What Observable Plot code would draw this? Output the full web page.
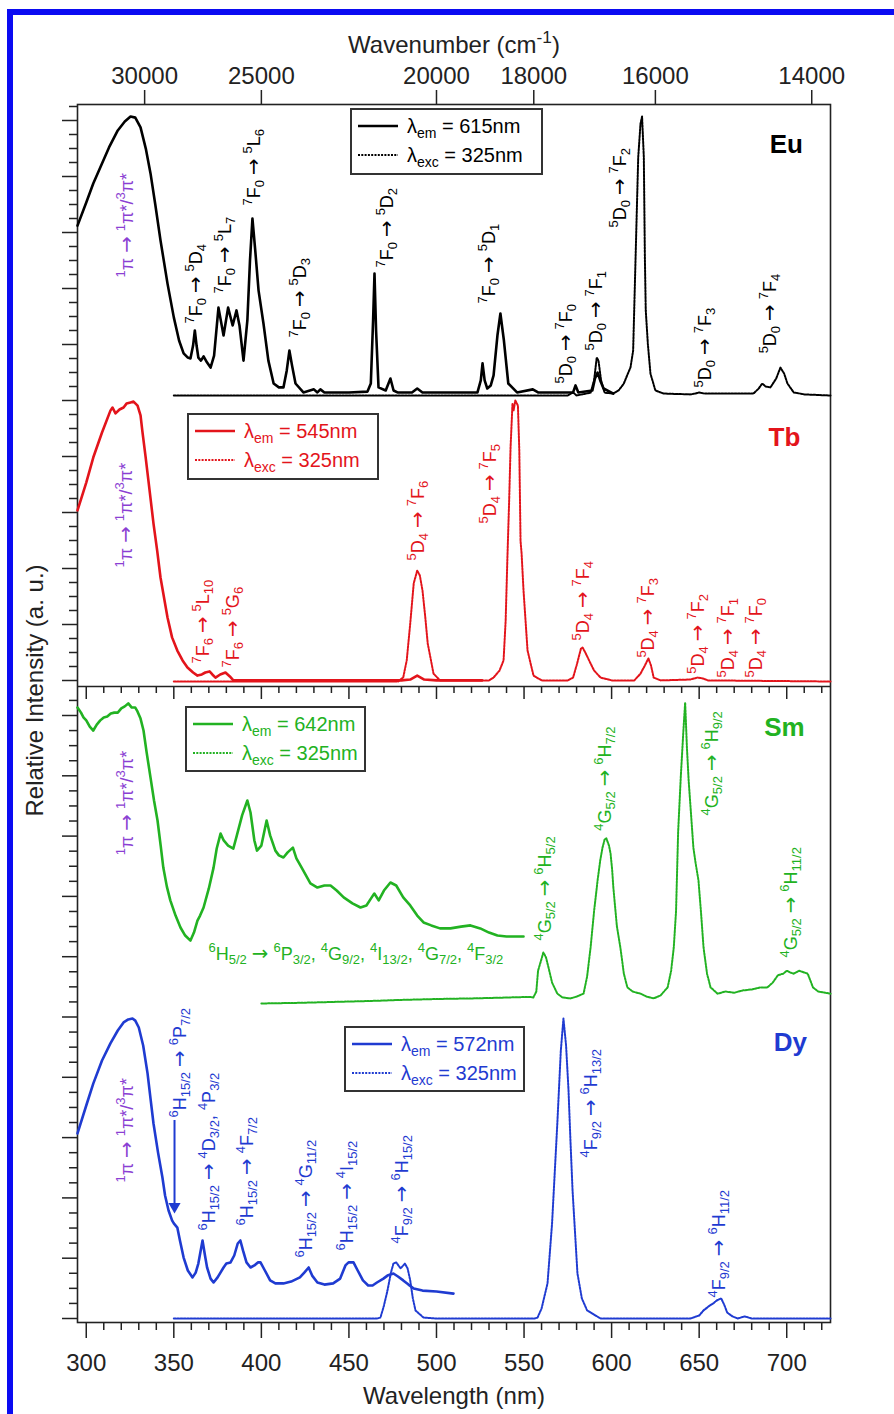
<!DOCTYPE html>
<html>
<head>
<meta charset="utf-8">
<script src="https://cdn.jsdelivr.net/npm/d3@7"></script>
<script src="https://cdn.jsdelivr.net/npm/@observablehq/plot@0.6"></script>
<style>
html,body{margin:0;padding:0;background:#fff;}
#wrap{position:relative;width:894px;height:1414px;overflow:hidden;font-family:"Liberation Sans",Arial,Helvetica,sans-serif;}
#chart{position:absolute;left:0;top:0;}
#border{position:absolute;left:7px;top:9px;width:2000px;height:2000px;border-left:6px solid #0b0bf2;border-top:6px solid #0b0bf2;pointer-events:none;}
.leg{position:absolute;border:2px solid #333;background:#fff;box-sizing:border-box;}
.leg svg{position:absolute;left:6px;}
.leg span{position:absolute;font-size:20px;line-height:20px;white-space:nowrap;}
.leg sub{font-size:70%;vertical-align:-0.35em;line-height:0;}
</style>
</head>
<body>
<div id="wrap"><div id="chart"></div><div id="border"></div></div>
<script>
// ---------------- data (wavelength nm, relative intensity % of panel) ----------------
const euExc = [[295,60.9],[300,69.2],[304,76],[308,81.7],[313,88.9],[318,95],[322,98.2],[325.3,100],[328,99.6],[331,96.1],[334,88.5],[336.7,79.6],[339.5,68.1],[342.4,55.6],[346.4,40.1],[350,28],[353,19.7],[355.6,15.1],[358,13.6],[359.5,13.3],[361,17.9],[362,23.3],[363,17.9],[364,13.6],[365.5,12.5],[367,14],[369,11.8],[371,10],[373,14.3],[375.5,31.5],[378.4,21.5],[381,31.5],[383.6,25.1],[385.8,30.5],[387.5,25.1],[389.8,12.5],[392,26.9],[393.5,48.4],[394.9,63.4],[396.5,52],[398.4,37.6],[401.2,25.8],[404,12.5],[407,4.3],[410,2.9],[412.6,2.9],[414.5,9],[416,16.1],[417.5,10.8],[419.5,4.3],[424,1.1],[430,2.2],[432,1.1],[433.7,2.2],[436,1.1],[450,1.1],[460.6,1.4],[462.5,4.3],[463.8,26.9],[464.6,43.7],[465.5,23.3],[466.9,2.9],[471,1.8],[473.7,6.1],[475.5,1.8],[477.7,1.1],[486,1.1],[489,2.5],[492,1.1],[510,1.1],[523.4,1.1],[525.3,5.4],[526.3,11.5],[527.5,5.4],[529,2.5],[531,3.6],[532.6,7.2],[534.8,21.5],[536.5,29.4],[538.5,19.7],[541,4.3],[546,1.1],[555,2.2],[558,1.1],[578,1.1],[579.4,3.6],[581,1.1],[589,1.8],[590.5,6.1],[592,8.2],[593.5,5.4],[595.4,2.5],[601,0.7]];
const euEm = [[350,0],[400,0],[450,0],[500,0],[550,0],[575,0],[578,1.1],[580,0],[588,1],[590,5.4],[591.5,13.6],[592.5,12.5],[594,5.4],[596,1],[600.7,0.7],[604,1.8],[606.9,4.2],[610.8,10.1],[612.3,16.1],[613.2,37.6],[614.2,61.6],[615.2,85.4],[616.5,97.4],[617.4,100],[618.4,85.4],[619,49.5],[619.5,30.5],[620.7,18.5],[622.2,7.8],[625,1.8],[629.7,0.7],[645,0.4],[648,0.7],[650,1.1],[653,0.7],[681,0.7],[684,2.5],[686,4.3],[688,3.2],[690.7,2.9],[694,6.1],[696.4,10],[698.5,7.9],[700.4,4.3],[704,1.1],[710,0.4],[725,0]];
const tbExc = [[295,60.9],[300,70.8],[304,79.7],[309,88.6],[313.8,96.4],[315,97.5],[316.7,95.4],[319,96.8],[321.3,97.5],[323,98.9],[325.3,99.3],[327,99.6],[329.3,98.2],[331,94.7],[332,89.3],[333.8,80.4],[335.5,71.5],[338.4,56.2],[340.5,46.6],[342.4,37],[346.4,22.8],[349,15.7],[352,11],[355,7.5],[357.8,5],[361,3.2],[363.5,2.1],[366,2.5],[368,3.2],[370.4,3.6],[372,2.5],[373.8,1.4],[376.5,2.5],[379.5,3.2],[382,1.8],[384,0.4],[400,0.4],[440,0.4],[480,0.4],[485,0.7],[489,2.1],[493,0.7],[500,0.4],[526,0.4]];
const tbEm = [[350,0],[400,0],[478,0],[481,1.4],[483,7.5],[485,20.6],[487,34.9],[489,39.5],[490.5,37.7],[492,32.4],[493.5,23.5],[495,13.5],[498.3,2.8],[502,0.4],[530,0.4],[532.6,1.4],[536,3.9],[538.3,7.5],[539.5,21.7],[540.5,44.1],[541.5,64.4],[542.3,83.3],[543.4,98.9],[544,96.4],[545,100],[546.5,98.2],[547.3,82],[548,50],[548.6,45.6],[549.7,32.4],[552,11],[555.4,2.1],[560,0.4],[575,0.4],[578,1.4],[580,5.7],[582.5,11.7],[583.4,12.1],[585,10.3],[588,6.4],[590,3.9],[593.7,1.4],[600,0.4],[613,0.4],[616.5,2.8],[619,5.7],[621,8.2],[622.5,5.7],[624,1.4],[628,0.4],[645,0.7],[649,1.4],[652,1.1],[655,0.4],[725,0]];
const smExc = [[295,98.3],[297,96.6],[298.4,95],[300,94],[302,91.9],[304,90.6],[306,92.6],[308,94],[310,95],[312,95.3],[314,96.3],[316,96.6],[318,96.6],[320,98],[322,98.7],[324,99.7],[326,98.3],[328,98.3],[329,97.3],[331,94.6],[332.7,90.6],[334.5,83.2],[336.7,74.8],[338.7,67.1],[340.7,60.4],[342.5,52],[344,44.6],[346,38.3],[348,33.6],[351,28.5],[353.8,24.5],[356.5,21.8],[359.5,20.1],[361.5,22.8],[363.5,26.8],[365,28.5],[367,31.2],[370,37.6],[372.7,44.6],[374.5,51],[376.7,56],[378.5,53.7],[381,52],[384,51],[386,55.4],[389,62.1],[392,67.1],[393.8,63.1],[396,53.7],[397.5,50.3],[400,52],[403,60.4],[405,55.4],[408,50.3],[410,48.7],[412.6,48],[415,49.7],[418,51.3],[420,47.7],[423,44.6],[428,39.3],[432,37.9],[436,38.6],[439.5,38.6],[443,36.9],[447,34.6],[452,32.6],[456.6,31.2],[460,31.9],[463,34.6],[464.5,35.9],[467,33.6],[470,36.9],[473.7,39.6],[477,38.6],[481,34.6],[485,31.9],[489,28.5],[492.6,26.2],[497,25.2],[502,24.2],[508,24.2],[514,24.8],[519.4,25.2],[525,24.2],[530,22.8],[534.8,21.8],[540,21.5],[549.7,21.5]];
const smEm = [[400,-1],[420,-0.8],[440,-0.5],[460,-0.2],[480,0.2],[500,0.5],[520,0.7],[540,1],[553,1.2],[555.3,1],[557,3],[558,10],[559.5,13],[561,16.1],[562.5,14.5],[564,11],[566,6],[569,2.3],[572,1],[576.5,0.7],[580,1.3],[584,2.3],[586,8],[588,17.8],[590,30],[592,40.3],[593.5,47],[594.8,51.3],[596,54],[597,54.4],[598.5,52],[599.4,49.3],[600.3,44],[601,37.9],[603,25],[605,17.8],[607,9],[609,4.4],[612,3],[616.5,2.3],[620,1.3],[624,0.7],[628,1.7],[632,4.4],[634,10],[635.5,17.8],[636.8,30],[638,56.7],[639.5,75],[641,90.6],[642,100],[643,85],[644,73.8],[645.3,63],[646.7,51.3],[648,46],[649.6,40.3],[651,30],[652.5,17.8],[654.5,9],[656.5,4.4],[660.5,2.3],[665,3],[670,2.6],[675,3.4],[680,3.7],[685,4.4],[689,4.4],[692,6],[695,8.5],[698,9],[700,10],[702,9.4],[704,9],[707,10],[710,9.4],[712,9],[715,4.4],[718,3],[722,2.6],[725,2.3]];
const dyExc = [[295,61.7],[300,71],[304,78.3],[309,86],[313.8,91.7],[318,96],[321.3,98.7],[324,99.7],[326.4,100],[328,99.3],[330,97],[332.5,91],[335,81.7],[336.7,73.3],[338.4,65],[341,55.3],[343.5,47],[345,41],[347,36],[349,32.7],[350,31.7],[352,30.3],[353.5,26],[355.6,20.3],[358,16],[360.7,13.7],[362.5,15.3],[364,18.3],[366.4,26],[367.8,21],[369,17],[371,13.3],[372.7,12],[375,13.7],[378.4,17],[380,18.3],[382.4,18.7],[384.5,21],[386.5,25],[388,26],[389.5,22.7],[391.5,18.7],[393.8,17],[396,17.7],[398,18.7],[399.5,18.7],[402,16],[405,12.7],[408,11.7],[412.6,11.7],[417,12.3],[422,13.7],[424.5,15.3],[427,17],[429,14.3],[432,12],[436,11.3],[441,11.7],[445,13.3],[448,17.7],[449.8,18.7],[452.6,18.7],[455,16],[458,12.7],[461,11],[463.5,11],[466,12],[469.7,13.3],[472,14.3],[475.4,15],[478,14],[481,12.7],[484,11.3],[487,10],[492,9.3],[500,9],[509.7,8.3]];
const dyEm = [[350,0],[400,0],[466,0],[468,0.3],[470,4.3],[472,9.3],[474,15.3],[475.4,18.3],[477,18.7],[479.5,16.7],[482,18.3],[483.5,16.7],[485,12.7],[486.5,6.7],[488,2.7],[492.6,0.3],[500,0],[556,0],[557.7,0.3],[560,3.3],[563.4,11.7],[566,31.7],[569,65],[571,89.3],[572.5,100],[574,91],[575.4,76],[576.5,59.3],[577.7,42.7],[580.5,15],[583,6.7],[586,2.7],[593.7,0],[645,0],[650,1],[652.5,2.7],[656,4.3],[658,5],[660,6],[662.6,6.7],[664.5,4.3],[666,2],[669,0.7],[672,0],[676,0.7],[680,0],[725,0]];

// annotations: [text, wavelength, relative intensity]
const euLabels = [["^{7}F_{0} → ^{5}D_{4}",363,25.8],["^{7}F_{0} → ^{5}L_{7}",379.5,36.6],["^{7}F_{0} → ^{5}L_{6}",396.1,68.1],["^{7}F_{0} → ^{5}D_{3}",422.3,20.8],["^{7}F_{0} → ^{5}D_{2}",472,45.9],["^{7}F_{0} → ^{5}D_{1}",530.3,33],["^{5}D_{0} → ^{7}F_{0}",574.2,4.3],["^{5}D_{0} → ^{7}F_{1}",591.4,16.1],["^{5}D_{0} → ^{7}F_{2}",605,60.2],["^{5}D_{0} → ^{7}F_{3}",653.6,2.9],["^{5}D_{0} → ^{7}F_{4}",690.7,15.1]];
const tbLabels = [["^{7}F_{6} → ^{5}L_{10}",367,6.4],["^{7}F_{6} → ^{5}G_{6}",384.1,5],["^{5}D_{4} → ^{7}F_{6}",489.7,43.1],["^{5}D_{4} → ^{7}F_{5}",530.8,56.2],["^{5}D_{4} → ^{7}F_{4}",583.9,14.6],["^{5}D_{4} → ^{7}F_{3}",621,8.5],["^{5}D_{4} → ^{7}F_{2}",649.6,2.8],["^{5}D_{4} → ^{7}F_{1}",666.7,1.4],["^{5}D_{4} → ^{7}F_{0}",682.7,1.4]];
const smLabels = [["^{4}G_{5/2} → ^{6}H_{5/2}",562.2,20.1],["^{4}G_{5/2} → ^{6}H_{7/2}",596.5,57],["^{4}G_{5/2} → ^{6}H_{9/2}",657.6,62.1],["^{4}G_{5/2} → ^{6}H_{11/2}",702.7,14.4]];
const smBandLabel = [["^{6}H_{5/2} → ^{6}P_{3/2}, ^{4}G_{9/2}, ^{4}I_{13/2}, ^{4}G_{7/2}, ^{4}F_{3/2}",369.8,15.4]];
const dyLabels = [["^{6}H_{15/2} → ^{6}P_{7/2}",353.8,67],["^{6}H_{15/2} → ^{4}D_{3/2}, ^{4}P_{3/2}",370.4,29.3],["^{6}H_{15/2} → ^{4}F_{7/2}",392.1,31],["^{6}H_{15/2} → ^{4}G_{11/2}",425.8,20.3],["^{6}H_{15/2} → ^{4}I_{15/2}",449.2,22.7],["^{4}F_{9/2} → ^{6}H_{15/2}",480.6,25],["^{4}F_{9/2} → ^{6}H_{13/2}",588.5,53.7],["^{4}F_{9/2} → ^{6}H_{11/2}",661.6,7]];
const ligandLabel = "^{1}π → ^{1}π*/^{3}π*";
const ligandAt = {Eu:[323.6,42.3], Tb:[323,40.6], Sm:[323.6,48.7], Dy:[323.6,45.3]};
const nameAt = {Eu:[699.8,90], Tb:[698.7,86.9], Sm:[698.7,91.7], Dy:[702.1,92.1]};
const dyArrow = {x:350.4, from:66, to:37.3};
const legendText = {Eu:["615nm","325nm"], Tb:["545nm","325nm"], Sm:["642nm","325nm"], Dy:["572nm","325nm"]};
const wavelengthTicks = [300,350,400,450,500,550,600,650,700];
const wavenumberTicks = [30000,25000,20000,18000,16000,14000];

// ---------------- layout ----------------
const purple = "#8b3fd3";
const panels = [
  {name:"Eu", color:"#000000", base:927, span:279, exc:euExc, em:euEm, labels:euLabels, box:[350,108,193,67]},
  {name:"Tb", color:"#e3141b", base:641, span:281, exc:tbExc, em:tbEm, labels:tbLabels, box:[187,413,192,67]},
  {name:"Sm", color:"#22b222", base:322, span:298, exc:smExc, em:smEm, labels:smLabels, box:[185,706,181,66]},
  {name:"Dy", color:"#1f3bd1", base:4, span:300, exc:dyExc, em:dyEm, labels:dyLabels, box:[344,1026,181,66]}
];
const Y = (p,v) => p.base + v/100*p.span;
const dash = "2,1.3";
const axisColor = "#222";
const boundary = 636;

const yMajor = [...d3.range(11).map(i=>642+56*i), ...d3.range(11).map(i=>4+60.3*i)];
const yMinor = [...d3.range(42).filter(k=>k%4).map(k=>642+14*k), ...d3.range(42).filter(k=>k%4).map(k=>4+15.075*k)];
const xMinor = d3.range(300,721,10).filter(v=>v%50);

const marks = [
  Plot.frame({stroke:axisColor, strokeWidth:1.6}),
  Plot.ruleY([boundary], {stroke:axisColor, strokeWidth:1.6}),
  Plot.ruleX(wavelengthTicks, {x:d=>d, y1:boundary, y2:boundary-13, stroke:axisColor, strokeWidth:1.5}),
  Plot.ruleX(xMinor, {x:d=>d, y1:boundary, y2:boundary-7, stroke:axisColor, strokeWidth:1.5}),
  Plot.axisX({anchor:"bottom", ticks:wavelengthTicks, tickSize:16, tickPadding:15, tickFormat:d=>String(d), label:null, stroke:axisColor, strokeWidth:1.5, fontSize:24}),
  Plot.axisX({anchor:"bottom", ticks:xMinor, tickSize:8, tickFormat:()=>"", label:null, stroke:axisColor, strokeWidth:1.5}),
  Plot.axisX({anchor:"top", ticks:wavenumberTicks.map(w=>1e7/w), tickSize:15, tickPadding:6, tickFormat:d=>String(Math.round(1e7/d)), label:null, stroke:axisColor, strokeWidth:1.5, fontSize:24}),
  Plot.axisY({anchor:"left", ticks:yMajor, tickSize:15, tickFormat:()=>"", label:null, stroke:axisColor, strokeWidth:1.5}),
  Plot.axisY({anchor:"left", ticks:yMinor, tickSize:8, tickFormat:()=>"", label:null, stroke:axisColor, strokeWidth:1.5}),
  Plot.text(["Wavenumber (cm^{-1})"], {frameAnchor:"top", lineAnchor:"middle", textAnchor:"middle", dy:-59, text:d=>d, fontSize:24, fill:"#222"}),
  Plot.text(["Wavelength (nm)"], {frameAnchor:"bottom", lineAnchor:"middle", textAnchor:"middle", dy:74, text:d=>d, fontSize:24, fill:"#222"}),
  Plot.text(["Relative Intensity (a. u.)"], {frameAnchor:"left", lineAnchor:"middle", textAnchor:"middle", dx:-42, dy:-23, rotate:-90, text:d=>d, fontSize:24, fill:"#222"})
];
for (const p of panels) {
  marks.push(Plot.line(p.em, {x:d=>d[0], y:d=>Y(p,d[1]), stroke:p.color, strokeWidth:2, strokeDasharray:dash}));
  marks.push(Plot.line(p.exc, {x:d=>d[0], y:d=>Y(p,d[1]), stroke:p.color, strokeWidth:2.6}));
  marks.push(Plot.text(p.labels, {x:d=>d[1], y:d=>Y(p,d[2]), text:d=>d[0], rotate:-90, textAnchor:"start", fontSize:18, fill:p.color}));
  marks.push(Plot.text([ligandLabel], {x:()=>ligandAt[p.name][0], y:()=>Y(p,ligandAt[p.name][1]), text:d=>d, rotate:-90, textAnchor:"start", fontSize:18, fill:purple}));
  marks.push(Plot.text([p.name], {x:()=>nameAt[p.name][0], y:()=>Y(p,nameAt[p.name][1]), text:d=>d, fontSize:26, fontWeight:"bold", fill:p.color}));
}
const sm = panels[2], dy = panels[3];
marks.push(Plot.text(smBandLabel, {x:d=>d[1], y:d=>Y(sm,d[2]), text:d=>d[0], textAnchor:"start", fontSize:18, fill:sm.color}));
marks.push(Plot.ruleX([dyArrow], {x:d=>d.x, y1:d=>Y(dy,d.from), y2:d=>Y(dy,d.to), stroke:dy.color, strokeWidth:2}));
marks.push(Plot.dot([dyArrow], {x:d=>d.x, y:d=>Y(dy,d.to), symbol:"triangle", rotate:180, r:4.5, fill:dy.color, stroke:"none"}));

const svg = Plot.plot({
  width:894, height:1414,
  marginLeft:77, marginRight:64, marginTop:104, marginBottom:92,
  x:{domain:[295,725]},
  y:{domain:[0,1218]},
  style:{fontFamily:'"Liberation Sans", Arial, Helvetica, sans-serif', fontSize:"24px", background:"#fff", color:axisColor, overflow:"visible"},
  marks
});
document.getElementById("chart").appendChild(svg);

// rich text: ^{..} superscript, _{..} subscript, arrows in a wider face
const NS = "http://www.w3.org/2000/svg";
d3.select(svg).selectAll("text").each(function(){
  const s = this.textContent;
  if (!/[\^_]\{|→/.test(s)) return;
  const fs = parseFloat(getComputedStyle(this).fontSize) || 18;
  while (this.firstChild) this.removeChild(this.firstChild);
  const re = /\^\{([^}]*)\}|_\{([^}]*)\}|(→)|([^\^_→]+)/g;
  let m;
  while ((m = re.exec(s))) {
    const ts = document.createElementNS(NS,"tspan");
    if (m[1] !== undefined) { ts.textContent = m[1]; ts.setAttribute("font-size", (fs*0.72).toFixed(1)); ts.setAttribute("baseline-shift", (fs*0.42).toFixed(1)); }
    else if (m[2] !== undefined) { ts.textContent = m[2]; ts.setAttribute("font-size", (fs*0.72).toFixed(1)); ts.setAttribute("baseline-shift", (-fs*0.22).toFixed(1)); }
    else if (m[3] !== undefined) { ts.textContent = "→"; ts.setAttribute("font-family", "DejaVu Sans"); ts.setAttribute("font-size", (fs*1.1).toFixed(1)); }
    else ts.textContent = m[4];
    this.appendChild(ts);
  }
});

// legends
const wrap = document.getElementById("wrap");
for (const p of panels) {
  const [l,t,w,h] = p.box;
  const div = document.createElement("div");
  div.className = "leg";
  Object.assign(div.style, {left:l+"px", top:t+"px", width:w+"px", height:h+"px", color:p.color});
  const rows = [["em", legendText[p.name][0], null, 16, 23], ["exc", legendText[p.name][1], dash, 45, 52]];
  let html = "";
  for (const [sub, txt, da, ly, base] of rows) {
    html += `<svg width="40" height="6" style="top:${ly-3}px"><line x1="0" x2="40" y1="3" y2="3" stroke="${p.color}" stroke-width="${da?2:2.6}" ${da?`stroke-dasharray="${da}"`:""}/></svg>`;
    html += `<span style="left:55px;top:${base-17}px">λ<sub>${sub}</sub> = ${txt}</span>`;
  }
  div.innerHTML = html;
  wrap.appendChild(div);
}
</script>
</body>
</html>
